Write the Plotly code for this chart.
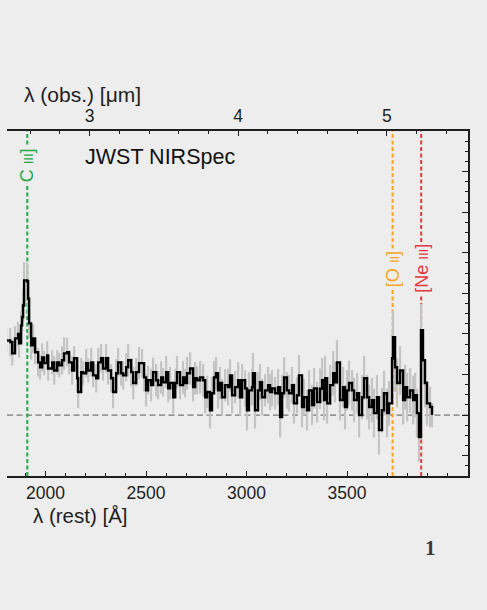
import plotly.graph_objects as go

# Canvas and plot-area geometry (pixels)
W, H = 487, 610
L, R, T, B = 7, 19, 131, 134

ONE_PLUS_Z = 13.52          # observed / rest wavelength ratio
REST_RANGE = [1808, 4102]   # Angstrom
FLUX_RANGE = [-1.5, 7.0]

# Binned spectrum: rest wavelength [Angstrom], flux, 1-sigma error
rest_wave = [
    1804, 1824, 1834, 1848, 1863, 1868, 1878, 1883, 1888, 1893, 1908, 1913, 1918, 1928, 1938, 1948,
    1963, 1973, 1983, 1993, 2008, 2013, 2033, 2043, 2058, 2068, 2082, 2092, 2107, 2117, 2132, 2142,
    2157, 2162, 2177, 2187, 2202, 2212, 2227, 2237, 2252, 2262, 2276, 2286, 2301, 2311, 2326, 2336,
    2351, 2361, 2376, 2386, 2401, 2411, 2426, 2436, 2451, 2465, 2480, 2490, 2500, 2510, 2525, 2535,
    2550, 2560, 2575, 2585, 2600, 2610, 2620, 2635, 2645, 2654, 2669, 2684, 2694, 2704, 2719, 2734,
    2744, 2754, 2769, 2784, 2794, 2804, 2818, 2828, 2838, 2848, 2858, 2868, 2878, 2893, 2908, 2918,
    2928, 2943, 2958, 2968, 2978, 2993, 3002, 3012, 3027, 3032, 3042, 3057, 3067, 3077, 3092, 3107,
    3117, 3127, 3142, 3157, 3167, 3177, 3187, 3201, 3211, 3226, 3236, 3251, 3261, 3276, 3286, 3301,
    3311, 3326, 3336, 3351, 3366, 3376, 3386, 3391, 3401, 3416, 3431, 3440, 3450, 3465, 3480, 3490,
    3500, 3510, 3525, 3535, 3550, 3560, 3575, 3585, 3600, 3610, 3624, 3634, 3649, 3659, 3674, 3684,
    3699, 3709, 3724, 3729, 3739, 3749, 3764, 3779, 3789, 3799, 3814, 3829, 3839, 3848, 3858, 3868,
    3878, 3888, 3898, 3913, 3923,
]
flux = [
    1.84, 1.80, 1.52, 1.89, 2.00, 1.77, 2.21, 2.41, 2.70, 3.32, 3.30, 2.87, 2.26, 1.72, 1.89, 1.55,
    1.30, 1.18, 1.42, 1.28, 1.47, 1.15, 1.30, 1.10, 1.30, 1.23, 1.35, 1.52, 1.55, 1.30, 1.10, 1.40,
    0.91, 0.57, 1.06, 1.03, 1.28, 1.10, 1.30, 0.98, 0.91, 1.30, 1.40, 1.15, 1.40, 1.10, 0.91, 0.57,
    1.03, 1.30, 1.03, 0.98, 1.18, 1.35, 1.06, 0.79, 1.06, 1.28, 1.28, 0.93, 0.61, 0.86, 0.74, 1.06,
    0.86, 0.74, 0.93, 0.81, 1.06, 0.66, 0.79, 0.44, 0.79, 1.06, 0.74, 0.93, 0.79, 1.03, 1.15, 0.69,
    0.91, 0.86, 0.93, 0.86, 0.44, 0.57, 0.12, 0.54, 0.93, 1.03, 0.61, 0.79, 0.44, 0.74, 0.69, 0.98,
    0.49, 0.69, 0.86, 0.44, 0.86, 0.66, 0.12, 0.61, 0.69, 1.03, 0.12, 0.61, 0.81, 0.44, 0.61, 0.74,
    0.57, 0.66, 0.54, 0.69, -0.05, 0.54, 0.93, 0.61, 0.54, 0.74, 0.29, 0.49, 0.98, 0.20, 0.44, 0.12,
    0.61, 0.25, 0.66, 0.32, 0.65, 0.86, 0.37, 0.91, 0.29, 0.74, 1.03, 0.81, 1.30, 0.37, 0.69, 0.20,
    0.61, 0.79, 0.61, 0.37, 0.54, 0.00, 0.44, 0.91, 0.44, 0.20, 0.37, 0.05, 0.44, -0.37, 0.12, 0.54,
    0.05, 0.29, 1.40, 1.92, 1.18, 0.79, 1.10, 0.37, 0.69, 0.44, 0.61, 0.37, 0.49, 0.05, -0.54, 2.09,
    1.35, 0.79, 0.29, 0.20, 0.00,
]
flux_err = [
    0.30, 0.35, 0.30, 0.30, 0.30, 0.35, 0.35, 0.35, 0.40, 0.45, 0.45, 0.40, 0.35, 0.35, 0.35, 0.30,
    0.35, 0.30, 0.35, 0.30, 0.35, 0.30, 0.30, 0.35, 0.30, 0.30, 0.35, 0.40, 0.35, 0.30, 0.35, 0.30,
    0.35, 0.40, 0.35, 0.30, 0.35, 0.30, 0.35, 0.30, 0.35, 0.35, 0.35, 0.30, 0.35, 0.35, 0.35, 0.40,
    0.35, 0.35, 0.30, 0.35, 0.35, 0.40, 0.35, 0.40, 0.35, 0.40, 0.35, 0.35, 0.40, 0.35, 0.40, 0.35,
    0.40, 0.35, 0.40, 0.35, 0.40, 0.35, 0.40, 0.40, 0.35, 0.40, 0.35, 0.40, 0.35, 0.40, 0.40, 0.35,
    0.40, 0.35, 0.40, 0.40, 0.40, 0.40, 0.45, 0.40, 0.40, 0.40, 0.45, 0.40, 0.45, 0.40, 0.45, 0.40,
    0.45, 0.40, 0.45, 0.45, 0.40, 0.45, 0.50, 0.45, 0.45, 0.50, 0.45, 0.45, 0.45, 0.45, 0.40, 0.45,
    0.45, 0.45, 0.40, 0.45, 0.50, 0.45, 0.50, 0.45, 0.45, 0.45, 0.50, 0.45, 0.50, 0.50, 0.45, 0.50,
    0.50, 0.50, 0.50, 0.50, 0.50, 0.55, 0.50, 0.55, 0.50, 0.50, 0.55, 0.50, 0.55, 0.50, 0.50, 0.55,
    0.50, 0.55, 0.50, 0.55, 0.50, 0.55, 0.55, 0.55, 0.55, 0.55, 0.55, 0.60, 0.55, 0.60, 0.55, 0.55,
    0.60, 0.55, 0.60, 0.65, 0.60, 0.60, 0.60, 0.60, 0.55, 0.60, 0.55, 0.60, 0.55, 0.60, 0.60, 0.65,
    0.60, 0.60, 0.55, 0.50, 0.30,
]

# Emission lines: label, rest wavelength, colour, label centre (pixel row)
line_labels = ["C <span style='font-size:13px'>III</span>]",
               "[O <span style='font-size:13px'>II</span>]",
               "[Ne <span style='font-size:13px'>III</span>]"]
line_waves = [1909, 3727, 3869]
line_colors = ["#22a845", "#f5a623", "#e23a3f"]
line_label_rows = [165, 269.5, 268.5]

# Tick values
rest_ticks = [2000, 2500, 3000, 3500]
obs_ticks = [3, 4, 5]

INK = "#1e1e1e"
BG = "#ededed"
FONT = "Liberation Sans, Arial, sans-serif"

plot_w = W - L - R
plot_h = H - T - B


def paper_x(px):
    return (px - L) / plot_w


def paper_y(py):
    return (H - B - py) / plot_h


fig = go.Figure()

# Error spikes
fig.add_trace(go.Scatter(
    x=rest_wave, y=flux, mode="markers",
    marker=dict(size=0.1, color="rgba(0,0,0,0)"),
    error_y=dict(type="data", array=flux_err, visible=True,
                 color="#c4c4c4", thickness=2.2, width=0),
    hoverinfo="skip", showlegend=False,
))

# Binned spectrum
fig.add_trace(go.Scatter(
    x=rest_wave, y=flux, mode="lines", line_shape="hv",
    line=dict(color="#000000", width=2.4),
    hoverinfo="skip", showlegend=False,
))

# Invisible anchor for the observed-frame axis
fig.add_trace(go.Scatter(
    x=[w * ONE_PLUS_Z / 1e4 for w in line_waves], y=[0] * len(line_waves),
    xaxis="x2", mode="markers", marker=dict(opacity=0),
    hoverinfo="skip", showlegend=False,
))

shapes = [dict(type="line", xref="paper", yref="y", x0=0, x1=1, y0=0, y1=0,
               line=dict(color="#777777", width=1.3, dash="6px,3.5px"), layer="below")]
annotations = []
for lab, wv, col, row in zip(line_labels, line_waves, line_colors, line_label_rows):
    shapes.append(dict(type="line", xref="x", yref="paper", x0=wv, x1=wv, y0=0, y1=1,
                       line=dict(color=col, width=2, dash="4px,2.5px"), layer="below"))
    annotations.append(dict(x=wv, xref="x", y=paper_y(row), yref="paper",
                            text=lab, textangle=-90, showarrow=False,
                            font=dict(family=FONT, size=18, color=col),
                            bgcolor=BG, borderpad=1,
                            xanchor="center", yanchor="middle"))

annotations += [
    dict(x=paper_x(83), y=paper_y(157), xref="paper", yref="paper", text="JWST NIRSpec",
         showarrow=False, xanchor="left", yanchor="middle",
         font=dict(family=FONT, size=21.5, color="#111111")),
    dict(x=paper_x(22), y=paper_y(94), xref="paper", yref="paper", text="λ (obs.) [μm]",
         showarrow=False, xanchor="left", yanchor="middle",
         font=dict(family=FONT, size=21, color=INK)),
    dict(x=paper_x(31), y=paper_y(502), xref="paper", yref="paper", text="λ (rest) [Å]",
         showarrow=False, xanchor="left", yanchor="top",
         font=dict(family=FONT, size=20.5, color=INK)),
    dict(x=paper_x(430), y=paper_y(548), xref="paper", yref="paper", text="<b>1</b>",
         showarrow=False, xanchor="center", yanchor="middle",
         font=dict(family="Liberation Serif, Times New Roman, serif", size=21, color="#3a3a3a")),
]

axis_common = dict(showgrid=False, zeroline=False, showline=True, linecolor=INK,
                   linewidth=1.5, ticks="inside", tickcolor=INK, tickwidth=1.2)

fig.update_layout(
    width=W, height=H,
    margin=dict(l=L, r=R, t=T, b=B, pad=0),
    paper_bgcolor=BG, plot_bgcolor=BG,
    font=dict(family=FONT, color=INK),
    xaxis=dict(range=REST_RANGE, tickvals=rest_ticks, ticktext=[str(t) for t in rest_ticks],
               ticklen=5, tickfont=dict(size=17.5, color=INK),
               minor=dict(dtick=100, tick0=2000, ticklen=3, ticks="inside", tickcolor=INK),
               **axis_common),
    xaxis2=dict(overlaying="x", side="top", anchor="y",
                range=[REST_RANGE[0] * ONE_PLUS_Z / 1e4, REST_RANGE[1] * ONE_PLUS_Z / 1e4],
                tickvals=obs_ticks, ticktext=[str(t) for t in obs_ticks],
                ticklen=5, tickfont=dict(size=17.5, color=INK),
                minor=dict(dtick=0.2, tick0=3, ticklen=3, ticks="inside", tickcolor=INK),
                **axis_common),
    yaxis=dict(range=FLUX_RANGE, side="right", dtick=1, tick0=0, ticklen=6,
               showticklabels=False,
               minor=dict(dtick=0.25, tick0=0, ticklen=3, ticks="inside", tickcolor=INK),
               **axis_common),
    shapes=shapes,
    annotations=annotations,
)

fig.write_html("out.html")
